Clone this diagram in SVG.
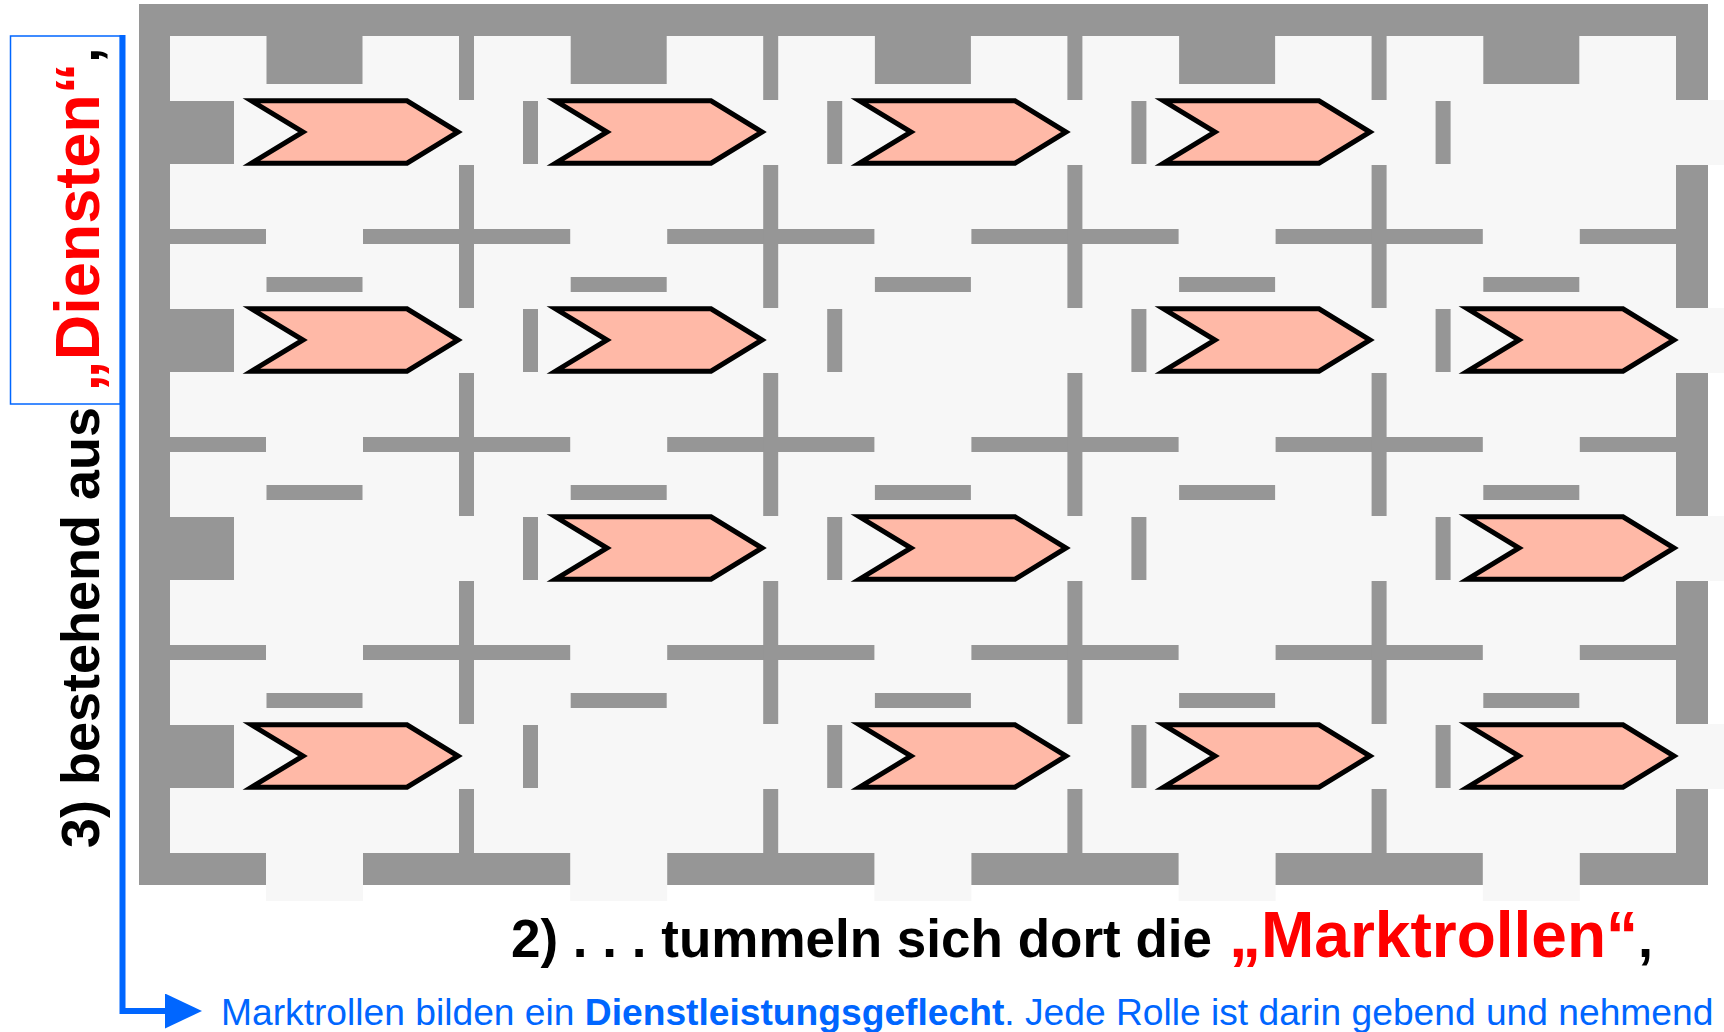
<svg xmlns="http://www.w3.org/2000/svg" xmlns:xlink="http://www.w3.org/1999/xlink" width="1724" height="1032" viewBox="0 0 1724 1032">
<style>
.g{fill:#969696}
.l{fill:#F7F7F7}
.chev{fill:#FFB9A7;stroke:#000;stroke-width:5;stroke-miterlimit:10}
.t{font-family:"Liberation Sans",Arial,Helvetica,sans-serif}
</style>
<defs>
<polygon id="chev" class="chev" points="0,0 155.5,0 206.5,31.2 155.5,62.4 0,62.4 51.5,31.2"/>
<marker id="arr" markerUnits="userSpaceOnUse" markerWidth="40" markerHeight="40" refX="1" refY="17.5" orient="auto" viewBox="0 0 40 40">
<polygon points="0,0 37,17.5 0,35" fill="#0066FF"/>
</marker>
</defs>
<rect width="1724" height="1032" fill="#FFFFFF"/>
<g id="market-area">
<rect class="g" x="139" y="4" width="1569" height="881"/>
<rect class="l" x="170" y="36" width="1506" height="817"/>
<rect class="l" x="266" y="853" width="97" height="48"/>
<rect class="l" x="570.2" y="853" width="97" height="48"/>
<rect class="l" x="874.4" y="853" width="97" height="48"/>
<rect class="l" x="1178.6" y="853" width="97" height="48"/>
<rect class="l" x="1482.8" y="853" width="97" height="48"/>
<rect class="l" x="1676" y="100" width="48" height="65"/>
<rect class="l" x="1676" y="308" width="48" height="65"/>
<rect class="l" x="1676" y="516" width="48" height="65"/>
<rect class="l" x="1676" y="724" width="48" height="65"/>
<rect class="g" x="266.5" y="36" width="96" height="48"/>
<rect class="g" x="570.7" y="36" width="96" height="48"/>
<rect class="g" x="874.9" y="36" width="96" height="48"/>
<rect class="g" x="1179.1" y="36" width="96" height="48"/>
<rect class="g" x="1483.3" y="36" width="96" height="48"/>
<rect class="g" x="266.5" y="277" width="96" height="15"/>
<rect class="g" x="570.7" y="277" width="96" height="15"/>
<rect class="g" x="874.9" y="277" width="96" height="15"/>
<rect class="g" x="1179.1" y="277" width="96" height="15"/>
<rect class="g" x="1483.3" y="277" width="96" height="15"/>
<rect class="g" x="266.5" y="485" width="96" height="15"/>
<rect class="g" x="570.7" y="485" width="96" height="15"/>
<rect class="g" x="874.9" y="485" width="96" height="15"/>
<rect class="g" x="1179.1" y="485" width="96" height="15"/>
<rect class="g" x="1483.3" y="485" width="96" height="15"/>
<rect class="g" x="266.5" y="693" width="96" height="15"/>
<rect class="g" x="570.7" y="693" width="96" height="15"/>
<rect class="g" x="874.9" y="693" width="96" height="15"/>
<rect class="g" x="1179.1" y="693" width="96" height="15"/>
<rect class="g" x="1483.3" y="693" width="96" height="15"/>
<rect class="g" x="170" y="229" width="96" height="15"/>
<rect class="g" x="363" y="229" width="207.2" height="15"/>
<rect class="g" x="667.2" y="229" width="207.2" height="15"/>
<rect class="g" x="971.4" y="229" width="207.2" height="15"/>
<rect class="g" x="1275.6" y="229" width="207.2" height="15"/>
<rect class="g" x="1579.8" y="229" width="96.2" height="15"/>
<rect class="g" x="170" y="437" width="96" height="15"/>
<rect class="g" x="363" y="437" width="207.2" height="15"/>
<rect class="g" x="667.2" y="437" width="207.2" height="15"/>
<rect class="g" x="971.4" y="437" width="207.2" height="15"/>
<rect class="g" x="1275.6" y="437" width="207.2" height="15"/>
<rect class="g" x="1579.8" y="437" width="96.2" height="15"/>
<rect class="g" x="170" y="645" width="96" height="15"/>
<rect class="g" x="363" y="645" width="207.2" height="15"/>
<rect class="g" x="667.2" y="645" width="207.2" height="15"/>
<rect class="g" x="971.4" y="645" width="207.2" height="15"/>
<rect class="g" x="1275.6" y="645" width="207.2" height="15"/>
<rect class="g" x="1579.8" y="645" width="96.2" height="15"/>
<path class="g" d="M459,36h15v64h-15z M459,165h15v143h-15z M459,373h15v143h-15z M459,581h15v143h-15z M459,789h15v64h-15z"/>
<path class="g" d="M763.2,36h15v64h-15z M763.2,165h15v143h-15z M763.2,373h15v143h-15z M763.2,581h15v143h-15z M763.2,789h15v64h-15z"/>
<path class="g" d="M1067.4,36h15v64h-15z M1067.4,165h15v143h-15z M1067.4,373h15v143h-15z M1067.4,581h15v143h-15z M1067.4,789h15v64h-15z"/>
<path class="g" d="M1371.6,36h15v64h-15z M1371.6,165h15v143h-15z M1371.6,373h15v143h-15z M1371.6,581h15v143h-15z M1371.6,789h15v64h-15z"/>
<path class="g" d="M170,101h64v63h-64z M170,309h64v63h-64z M170,517h64v63h-64z M170,725h64v63h-64z"/>
<path class="g" d="M523,101h15v63h-15z M827.2,101h15v63h-15z M1131.4,101h15v63h-15z M1435.6,101h15v63h-15z"/>
<path class="g" d="M523,309h15v63h-15z M827.2,309h15v63h-15z M1131.4,309h15v63h-15z M1435.6,309h15v63h-15z"/>
<path class="g" d="M523,517h15v63h-15z M827.2,517h15v63h-15z M1131.4,517h15v63h-15z M1435.6,517h15v63h-15z"/>
<path class="g" d="M523,725h15v63h-15z M827.2,725h15v63h-15z M1131.4,725h15v63h-15z M1435.6,725h15v63h-15z"/>
</g>
<g id="role-r0c0" transform="translate(251.5,100.8)"><use xlink:href="#chev"/></g>
<g id="role-r0c1" transform="translate(555.5,100.8)"><use xlink:href="#chev"/></g>
<g id="role-r0c2" transform="translate(859.5,100.8)"><use xlink:href="#chev"/></g>
<g id="role-r0c3" transform="translate(1163.5,100.8)"><use xlink:href="#chev"/></g>
<g id="role-r1c0" transform="translate(251.5,308.8)"><use xlink:href="#chev"/></g>
<g id="role-r1c1" transform="translate(555.5,308.8)"><use xlink:href="#chev"/></g>
<g id="role-r1c3" transform="translate(1163.5,308.8)"><use xlink:href="#chev"/></g>
<g id="role-r1c4" transform="translate(1467.5,308.8)"><use xlink:href="#chev"/></g>
<g id="role-r2c1" transform="translate(555.5,516.8)"><use xlink:href="#chev"/></g>
<g id="role-r2c2" transform="translate(859.5,516.8)"><use xlink:href="#chev"/></g>
<g id="role-r2c4" transform="translate(1467.5,516.8)"><use xlink:href="#chev"/></g>
<g id="role-r3c0" transform="translate(251.5,724.8)"><use xlink:href="#chev"/></g>
<g id="role-r3c2" transform="translate(859.5,724.8)"><use xlink:href="#chev"/></g>
<g id="role-r3c3" transform="translate(1163.5,724.8)"><use xlink:href="#chev"/></g>
<g id="role-r3c4" transform="translate(1467.5,724.8)"><use xlink:href="#chev"/></g>
<g id="label-dienste">
<rect x="10.5" y="36" width="110" height="368" fill="none" stroke="#0066FF" stroke-width="1.5"/>
<text class="t" transform="translate(99,848) rotate(-90)" font-weight="bold" fill="#000000"><tspan font-size="54">3) bestehend aus </tspan><tspan font-size="63" fill="#FF0000">„Diensten“</tspan><tspan font-size="54">,</tspan></text>
</g>
<g id="label-marktrollen">
<text class="t" x="511" y="957" font-size="54" font-weight="bold" fill="#000000" textLength="701" lengthAdjust="spacingAndGlyphs">2) . . . tummeln sich dort die</text>
<text class="t" x="1229" y="957" font-weight="bold"><tspan font-size="64" fill="#FF0000">„Marktrollen“</tspan><tspan font-size="54" fill="#000000">,</tspan></text>
</g>
<g id="connectors">
<path d="M122.5,35 V1011 H166" fill="none" stroke="#0066FF" stroke-width="6" marker-end="url(#arr)"/>
</g>
<g id="label-geflecht">
<text class="t" x="221" y="1025" font-size="37.2" fill="#0066FF">Marktrollen bilden ein <tspan font-weight="bold">Dienstleistungsgeflecht</tspan>. Jede Rolle ist darin gebend und nehmend</text>
</g>
</svg>
